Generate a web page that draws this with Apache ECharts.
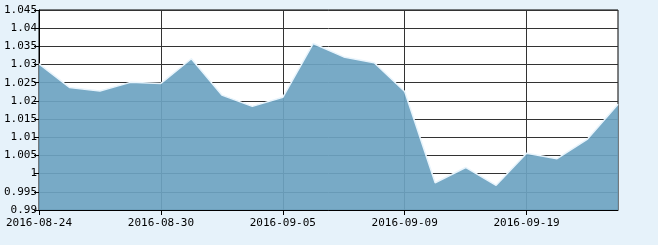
<!DOCTYPE html>
<html><head><meta charset="utf-8">
<script src="https://cdn.jsdelivr.net/npm/echarts@6/dist/echarts.min.js"></script>
<style>html,body{margin:0;padding:0;background:#E6F2FA;}#c{width:658px;height:245px;}</style>
</head><body><div id="c"></div>
<script>
var dates = ['2016-08-24','2016-08-25','2016-08-26','2016-08-29','2016-08-30','2016-08-31','2016-09-01','2016-09-02','2016-09-05','2016-09-06','2016-09-07','2016-09-08','2016-09-09','2016-09-12','2016-09-13','2016-09-14','2016-09-19','2016-09-20','2016-09-21','2016-09-22'];
var values = [1.0302,1.0237,1.0227,1.0251,1.0248,1.0316,1.0216,1.0185,1.0210,1.0358,1.0321,1.0305,1.0226,0.9975,1.0017,0.9968,1.0056,1.0041,1.0095,1.0191];
var font = {fontFamily:'DejaVu Sans Mono', fontSize:11, color:'#000'};
var every4 = function(i){ return i % 4 === 0; };
var chart = echarts.init(document.getElementById('c'), null, {renderer:'canvas'});
chart.setOption({
  backgroundColor:'#E6F2FA',
  animation:false,
  grid:{left:39, right:40, top:10, bottom:35, show:true, backgroundColor:'#fff', borderColor:'#000', borderWidth:1},
  xAxis:{type:'category', data:dates, boundaryGap:false,
    axisLine:{lineStyle:{color:'#000'}},
    axisTick:{show:true, interval:every4, length:5, inside:false, lineStyle:{color:'#000'}},
    axisLabel:Object.assign({interval:every4, margin:8, hideOverlap:false}, font),
    splitLine:{show:true, interval:every4, lineStyle:{color:'#333', width:1}}
  },
  yAxis:{type:'value', min:0.99, max:1.045, interval:0.005,
    axisLine:{show:true, lineStyle:{color:'#000'}},
    axisTick:{show:true, length:5, lineStyle:{color:'#000'}},
    axisLabel:Object.assign({margin:2, formatter:function(v){return String(+v.toFixed(3));}}, font),
    splitLine:{show:true, lineStyle:{color:'#333', width:1}}
  },
  series:[{type:'line', data:values, symbol:'none', smooth:false,
    lineStyle:{color:'#E8F4FC', width:1.5},
    areaStyle:{color:'#6CA3C1', opacity:0.92}
  }]
});
</script></body></html>
